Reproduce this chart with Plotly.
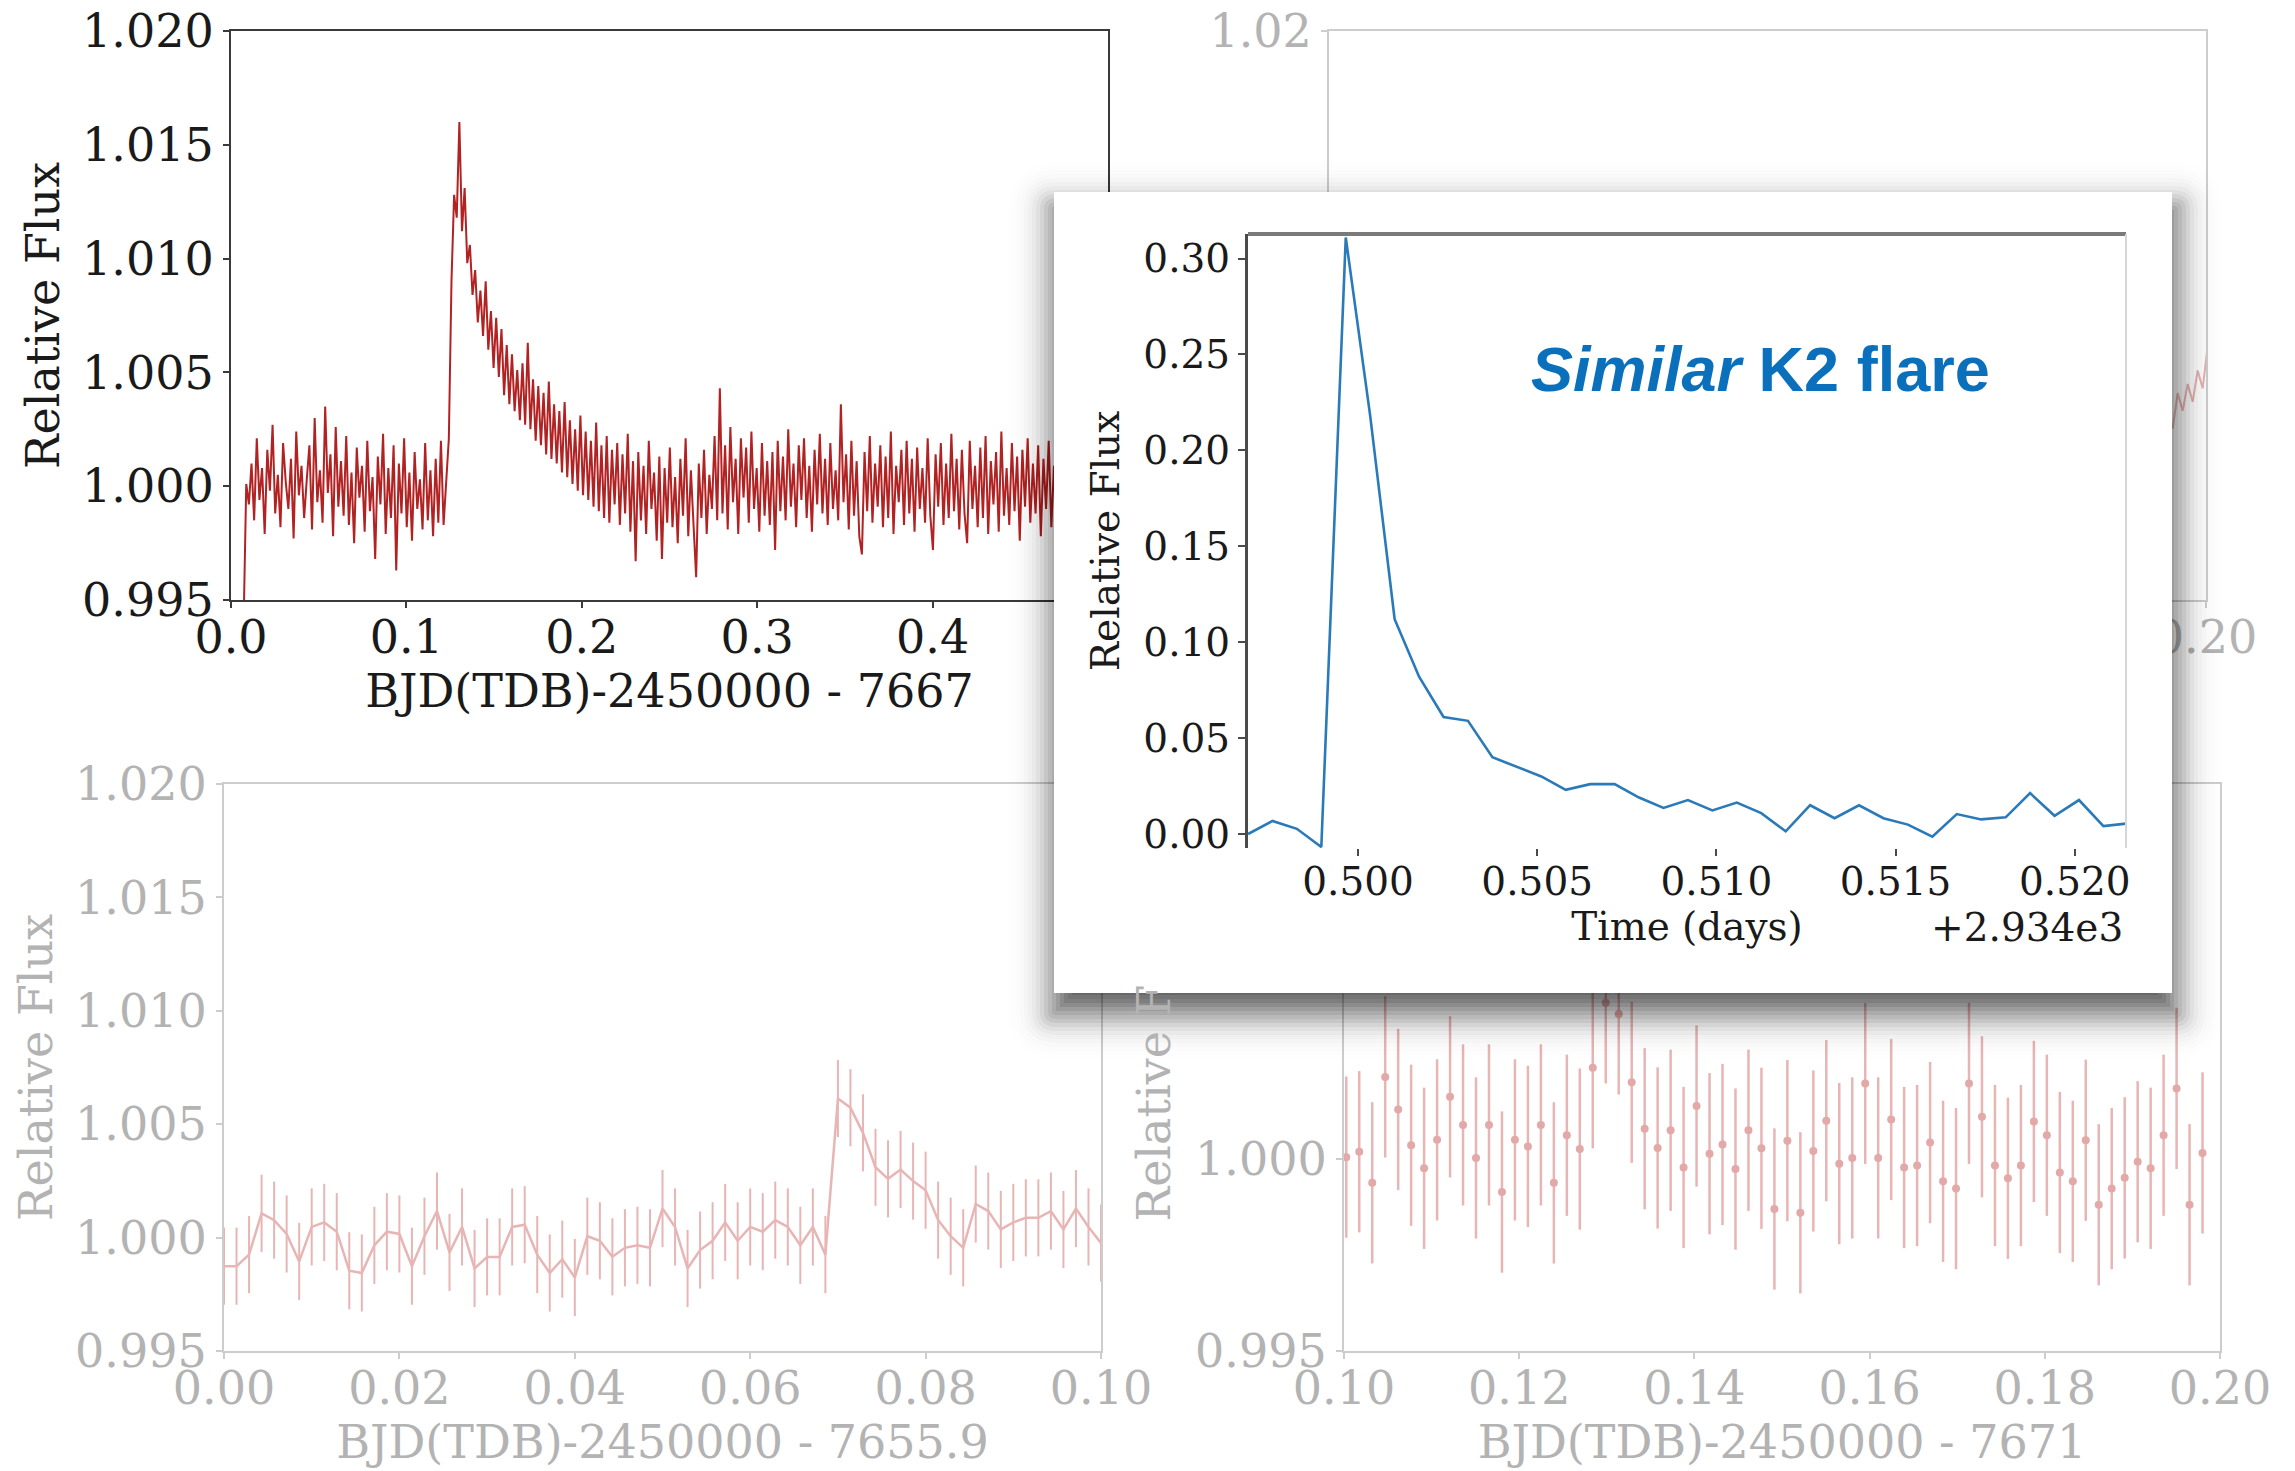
import math
import plotly.graph_objects as go

W, H = 2295, 1471
OFF = 8  # the page body margin shifts the figure by this many px
SERIF = "DejaVu Serif"

# ---- data -----------------------------------------------------------------
# top-left: BJD(TDB)-2450000 - 7667, evenly sampled
p1_t0, p1_dt = 0.0072, 0.0015
p1_flux = [
    0.9940, 1.0001, 0.9992, 1.0010, 0.9985, 1.0021, 0.9994, 1.0008, 0.9979, 1.0016,
    0.9998, 1.0027, 0.9988, 1.0005, 0.9982, 1.0019, 1.0002, 0.9990, 1.0012, 0.9977,
    1.0024, 0.9996, 1.0009, 0.9986, 1.0003, 1.0018, 0.9981, 1.0030, 0.9993, 1.0007,
    0.9984, 1.0035, 0.9997, 1.0014, 0.9978, 1.0026, 0.9991, 1.0011, 0.9987, 1.0022,
    0.9983, 1.0006, 0.9975, 1.0017, 0.9995, 1.0009, 0.9980, 1.0020, 0.9989, 1.0004,
    0.9968, 1.0013, 0.9992, 1.0023, 0.9979, 1.0008, 0.9986, 1.0018, 0.9963, 1.0010,
    0.9988, 1.0021, 0.9982, 1.0006, 0.9976, 1.0015, 0.9990, 1.0003, 0.9981, 1.0019,
    0.9985, 1.0007, 0.9978, 1.0012, 0.9984, 1.0020, 0.9983, 1.0004,
    # flare
    1.0021, 1.0090, 1.0128, 1.0118, 1.0160, 1.0112, 1.0131, 1.0098, 1.0106, 1.0084,
    1.0095, 1.0072, 1.0086, 1.0066, 1.0090, 1.0060, 1.0077, 1.0052, 1.0074, 1.0048,
    1.0069, 1.0040, 1.0062, 1.0036, 1.0058, 1.0033, 1.0051, 1.0029, 1.0054, 1.0027,
    1.0063, 1.0025, 1.0047, 1.0020, 1.0044, 1.0018, 1.0041, 1.0014, 1.0046, 1.0012,
    1.0036, 1.0010, 1.0033, 1.0006, 1.0037, 1.0004, 1.0029, 1.0001, 1.0025, 0.9998,
    1.0031, 0.9996, 1.0024, 0.9994, 1.0020, 0.9991, 1.0028, 0.9989, 1.0018, 0.9986,
    1.0022, 0.9984, 1.0016,
    # after the flare
    0.9992, 1.0019, 0.9983, 1.0014, 0.9988, 1.0023, 0.9980, 1.0011, 0.9967, 1.0015,
    0.9985, 1.0009, 0.9979, 1.0020, 0.9990, 1.0006, 0.9976, 1.0013, 0.9968, 1.0008,
    0.9984, 1.0017, 0.9982, 1.0004, 0.9975, 1.0012, 0.9987, 1.0021, 0.9978, 1.0007,
    0.9983, 0.9960, 1.0010, 0.9986, 1.0016, 0.9979, 1.0005, 0.9990, 1.0022, 0.9985,
    1.0043, 0.9988, 1.0018, 0.9981, 1.0026, 0.9993, 1.0012, 0.9979, 1.0021, 0.9995,
    1.0017, 0.9984, 1.0024, 0.9990, 1.0008, 0.9980, 1.0019, 0.9987, 1.0011, 0.9983,
    1.0015, 0.9972, 1.0020, 0.9989, 1.0013, 0.9985, 1.0025, 0.9991, 1.0010, 0.9982,
    1.0018, 0.9994, 1.0021, 0.9986, 1.0009, 0.9980, 1.0016, 0.9992, 1.0023, 0.9988,
    1.0012, 0.9983, 1.0019, 0.9990, 1.0007, 0.9985, 1.0036, 0.9993, 1.0014, 0.9981,
    1.0020, 0.9987, 1.0011, 0.9978, 0.9970, 1.0015, 0.9989, 1.0022, 0.9984, 1.0010,
    0.9991, 1.0018, 0.9982, 1.0013, 0.9986, 1.0024, 0.9979, 1.0009, 0.9993, 1.0016,
    0.9983, 1.0020, 0.9988, 1.0012, 0.9980, 1.0017, 0.9990, 1.0008, 0.9984, 1.0021,
    0.9987, 0.9972, 1.0014, 0.9991, 1.0019, 0.9983, 1.0010, 0.9986, 1.0023, 0.9989,
    1.0012, 0.9981, 1.0016, 0.9988, 0.9975, 1.0020, 0.9990, 1.0009, 0.9982, 1.0017,
    0.9986, 1.0022, 0.9979, 1.0011, 0.9992, 1.0015, 0.9980, 1.0024, 0.9987, 1.0008,
    0.9983, 1.0019, 0.9989, 1.0013, 0.9976, 1.0016, 0.9991, 1.0021, 0.9984, 1.0010,
    0.9988, 1.0018, 0.9978, 1.0012, 0.9990, 1.0020, 0.9982, 1.0009, 0.9986, 1.0015,
    0.9979, 1.0017, 0.9992, 1.0011, 0.9984, 1.0023, 0.9980, 1.0008, 0.9988, 1.0014,
    0.9983, 1.0019, 0.9986, 1.0010, 0.9977, 1.0016, 0.9990, 1.0005,
]

# top-right: only the tail right of the inset is visible
p2_t0, p2_dt = 0.1962, 0.00057
p2_flux = [0.99904, 1.00091, 0.99998, 1.00139, 1.00045, 1.00210, 1.00116, 1.00339]

# bottom-left: BJD(TDB)-2450000 - 7655.9
p3_t0, p3_dt = 0.0, 0.0014286
p3_flux = [
    0.99874, 0.99874, 0.99925, 1.00107, 1.00077, 1.00016, 0.99895, 1.00047, 1.00067, 1.00026,
    0.99854, 0.99844, 0.99966, 1.00026, 1.00016, 0.99874, 1.00006, 1.00117, 0.99935, 1.00047,
    0.99864, 0.99915, 0.99915, 1.00047, 1.00057, 0.99925, 0.99844, 0.99905, 0.99824, 1.00006,
    0.99986, 0.99915, 0.99955, 0.99966, 0.99955, 1.00128, 1.00047, 0.99864, 0.99945, 0.99986,
    1.00067, 0.99986, 1.00047, 1.00026, 1.00077, 1.00047, 0.99966, 1.00047, 0.99925, 1.00613,
    1.00573, 1.00462, 1.00310, 1.00259, 1.00300, 1.00249, 1.00209, 1.00077, 1.00006, 0.99955,
    1.00148, 1.00117, 1.00036, 1.00067, 1.00087, 1.00087, 1.00117, 1.00036, 1.00128, 1.00047,
    0.99976,
]
p3_err = 0.0017

# bottom-right: BJD(TDB)-2450000 - 7671
p4_t0, p4_dt = 0.10026, 0.001481
p4_flux = [
    1.00005, 1.00019, 0.99938, 1.00214, 1.00129, 1.00036, 0.99976, 1.00050, 1.00162, 1.00089,
    1.00003, 1.00089, 0.99914, 1.00050, 1.00033, 1.00089, 0.99938, 1.00062, 1.00026, 1.00238,
    1.00407, 1.00378, 1.00200, 1.00079, 1.00029, 1.00075, 0.99978, 1.00138, 1.00014, 1.00038,
    0.99974, 1.00075, 1.00028, 0.99870, 1.00048, 0.99860, 1.00021, 1.00100, 0.99988, 1.00003,
    1.00197, 1.00003, 1.00103, 0.99978, 0.99983, 1.00043, 0.99942, 0.99923, 1.00197, 1.00110,
    0.99983, 0.99950, 0.99983, 1.00098, 1.00062, 0.99965, 0.99942, 1.00049, 0.99881, 0.99923,
    0.99951, 0.99993, 0.99976, 1.00062, 1.00184, 0.99881, 1.00016,
]
p4_err = 0.0021

# inset: similar K2 flare, time offset +2.934e3 days
k2_t0, k2_dt = 0.49693, 0.000682
k2_flux = [
    0.0000, 0.0068, 0.0027, -0.0068, 0.3110, 0.2180, 0.1120, 0.0820, 0.0610, 0.0590,
    0.0400, 0.0350, 0.0300, 0.0230, 0.0260, 0.0260, 0.0190, 0.0136, 0.0177, 0.0123,
    0.0164, 0.0109, 0.0014, 0.0150, 0.0082, 0.0150, 0.0082, 0.0049, -0.0014, 0.0104,
    0.0076, 0.0087, 0.0213, 0.0095, 0.0177, 0.0041, 0.0055,
]

y_title = "Relative Flux"
x_titles = ["BJD(TDB)-2450000 - 7667", "BJD(TDB)-2450000 - 7655.9", "BJD(TDB)-2450000 - 7671"]
k2_x_title = "Time (days)"
k2_offset = "+2.934e3"
k2_label = "<b><i>Similar</i> K2 flare</b>"

# ---- styling ----------------------------------------------------------------
DARK_LINE, DARK_TXT = "#3a3a3a", "#1a1a1a"
FADE_LINE, FADE_TXT = "#cdcdcd", "#b3b3b3"
FADE_RED = "#e8b5b5"


def xdom(a, b):
    return [(a - OFF) / W, (b - OFF) / W]


def ydom(top, bottom):
    return [1 - (bottom - OFF) / H, 1 - (top - OFF) / H]


def px(p):
    return p - OFF


def ax(line, txt, size=46, **kw):
    d = dict(showline=True, linecolor=line, linewidth=2, mirror=True,
             ticks="outside", ticklen=6, tickwidth=2, tickcolor=line,
             showgrid=False, zeroline=False, automargin=False,
             ticklabeloverflow="allow",
             tickfont=dict(family=SERIF, size=size, color=txt))
    d.update(kw)
    return d


def ttl(text, color, size=46, standoff=8):
    return dict(text=text, font=dict(family=SERIF, size=size, color=color), standoff=standoff)


fig = go.Figure()

fig.add_trace(go.Scatter(x0=p1_t0, dx=p1_dt, y=p1_flux, mode="lines",
                         line=dict(color="#b22222", width=2), xaxis="x", yaxis="y"))
fig.add_trace(go.Scatter(x0=p2_t0, dx=p2_dt, y=p2_flux, mode="lines",
                         line=dict(color=FADE_RED, width=2), xaxis="x2", yaxis="y2"))
fig.add_trace(go.Scatter(x0=p3_t0, dx=p3_dt, y=p3_flux, mode="lines",
                         line=dict(color=FADE_RED, width=2.5),
                         error_y=dict(type="constant", value=p3_err, color=FADE_RED,
                                      thickness=2, width=0),
                         xaxis="x3", yaxis="y3"))
fig.add_trace(go.Scatter(x0=p4_t0, dx=p4_dt, y=p4_flux, mode="markers",
                         marker=dict(color="#e3a9a9", size=8),
                         error_y=dict(type="constant", value=p4_err, color=FADE_RED,
                                      thickness=2.5, width=0),
                         xaxis="x4", yaxis="y4"))
# empty subplot that carries the white card (drawn above panels 1-4)
fig.add_trace(go.Scatter(x=[], y=[], xaxis="x5", yaxis="y5"))
fig.add_trace(go.Scatter(x0=k2_t0, dx=k2_dt, y=k2_flux, mode="lines",
                         line=dict(color="#2a7ab9", width=2.6), xaxis="x6", yaxis="y6"))

top_y = ydom(31, 600)
bot_y = ydom(784, 1351)
LBL_UP = -10

fig.update_layout(
    width=W, height=H, margin=dict(l=0, r=0, t=0, b=0, autoexpand=False),
    paper_bgcolor="white", plot_bgcolor="rgba(0,0,0,0)",
    showlegend=False, hovermode=False,
    xaxis=ax(DARK_LINE, DARK_TXT, domain=xdom(231, 1108), anchor="y", range=[0, 0.5],
             tickvals=[0, 0.1, 0.2, 0.3, 0.4], tickformat=".1f", ticklabelstandoff=LBL_UP,
             title=ttl(x_titles[0], DARK_TXT)),
    yaxis=ax(DARK_LINE, DARK_TXT, domain=top_y, anchor="x", range=[0.995, 1.020],
             dtick=0.005, tickformat=".3f", title=ttl(y_title, DARK_TXT, standoff=8)),
    xaxis2=ax(FADE_LINE, FADE_TXT, domain=xdom(1329, 2206), anchor="y2", range=[0.10, 0.20],
              tickvals=[0.20], tickformat=".2f", ticklabelstandoff=LBL_UP),
    yaxis2=ax(FADE_LINE, FADE_TXT, domain=top_y, anchor="x2", range=[0.99, 1.02],
              tickvals=[1.02], tickformat=".2f"),
    xaxis3=ax(FADE_LINE, FADE_TXT, domain=xdom(224, 1101), anchor="y3", range=[0, 0.10],
              dtick=0.02, tickformat=".2f", ticklabelstandoff=LBL_UP,
              title=ttl(x_titles[1], FADE_TXT)),
    yaxis3=ax(FADE_LINE, FADE_TXT, domain=bot_y, anchor="x3", range=[0.995, 1.020],
              dtick=0.005, tickformat=".3f", title=ttl(y_title, FADE_TXT, standoff=8)),
    xaxis4=ax(FADE_LINE, FADE_TXT, domain=xdom(1344, 2220), anchor="y4", range=[0.10, 0.20],
              dtick=0.02, tickformat=".2f", ticklabelstandoff=LBL_UP,
              title=ttl(x_titles[2], FADE_TXT)),
    yaxis4=ax(FADE_LINE, FADE_TXT, domain=bot_y, anchor="x4", range=[0.995, 1.00977],
              tickvals=[0.995, 1.000], tickformat=".3f"),
    xaxis5=dict(visible=False, domain=[0, 1], range=[0, W], anchor="y5"),
    yaxis5=dict(visible=False, domain=[0, 1], range=[H, 0], anchor="x5"),
    xaxis6=ax("#4a4a4a", DARK_TXT, size=39, showline=False, mirror=False, ticklen=7,
              domain=xdom(1248, 2126), anchor="y6", range=[0.49693, 0.52143],
              tick0=0.5, dtick=0.005, tickformat=".3f", ticklabelstandoff=-8,
              title=ttl(k2_x_title, DARK_TXT, size=39, standoff=6)),
    yaxis6=ax("#4a4a4a", DARK_TXT, size=39, linewidth=3, mirror=False, ticklen=7,
              domain=ydom(234, 848), anchor="x6", range=[-0.0073, 0.3128],
              dtick=0.05, tickformat=".2f",
              title=ttl(y_title, DARK_TXT, size=39, standoff=12)),
)


# ---- card with a soft (gaussian-like) drop shadow, in the x5/y5 layer ----------
def rrect(x0, y0, x1, y1, r):
    r = max(r, 0.5)
    return (f"M {x0 + r},{y0} L {x1 - r},{y0} Q {x1},{y0} {x1},{y0 + r} "
            f"L {x1},{y1 - r} Q {x1},{y1} {x1 - r},{y1} L {x0 + r},{y1} "
            f"Q {x0},{y1} {x0},{y1 - r} L {x0},{y0 + r} Q {x0},{y0} {x0 + r},{y0} Z")


def phi(z):
    return 0.5 * (1 + math.erf(z / math.sqrt(2)))


box_l, box_r, box_t, box_b = px(1054), px(2172), px(192), px(993)
SH_SIGMA, SH_MAX, SH_DX, SH_DY = 19, 0.68, 2, 18
steps = list(range(-44, 61, 4))
cover = []
for i, e in enumerate(steps):
    prev = steps[i - 1] if i else e - 4
    cover.append(SH_MAX * (1 - phi((prev + e) / 2 / SH_SIGMA)))
cover.append(0.0)

shapes = []
for i, e in enumerate(steps):
    alpha = 1 - (1 - cover[i]) / (1 - cover[i + 1])
    shapes.append(dict(type="path", xref="x5", yref="y5", layer="below",
                       path=rrect(box_l + SH_DX - e, box_t + SH_DY - e,
                                  box_r + SH_DX + e, box_b + SH_DY + e, e),
                       fillcolor=f"rgba(0,0,0,{alpha:.4f})", line=dict(width=0)))
shapes.append(dict(type="rect", xref="x5", yref="y5", layer="below",
                   x0=box_l, x1=box_r, y0=box_t, y1=box_b,
                   fillcolor="white", line=dict(width=0)))
# inset spines: heavy top, faint right
shapes.append(dict(type="line", xref="x6 domain", yref="y6 domain",
                   x0=0, x1=1, y0=1, y1=1, line=dict(color="#7a7a7a", width=4)))
shapes.append(dict(type="line", xref="x6 domain", yref="y6 domain",
                   x0=1, x1=1, y0=0, y1=1, line=dict(color="#d6d6d6", width=2)))
fig.update_layout(shapes=shapes)

fig.update_layout(annotations=[
    dict(text="Relative F", textangle=-90, x=px(1153) / W, y=1 - px(1224) / H,
         xref="paper", yref="paper", xanchor="center", yanchor="bottom", showarrow=False,
         font=dict(family=SERIF, size=46, color=FADE_TXT)),
    dict(text=k2_offset, x=px(2125) / W, y=1 - px(928) / H, xref="paper", yref="paper",
         xanchor="right", yanchor="middle", showarrow=False,
         font=dict(family=SERIF, size=39, color=DARK_TXT)),
    dict(text=k2_label, x=px(1760) / W, y=1 - px(369) / H, xref="paper", yref="paper",
         xanchor="center", yanchor="middle", showarrow=False,
         font=dict(family="Liberation Sans, Arial, sans-serif", size=63, color="#0a70bb")),
])

fig.write_html("out.html")
